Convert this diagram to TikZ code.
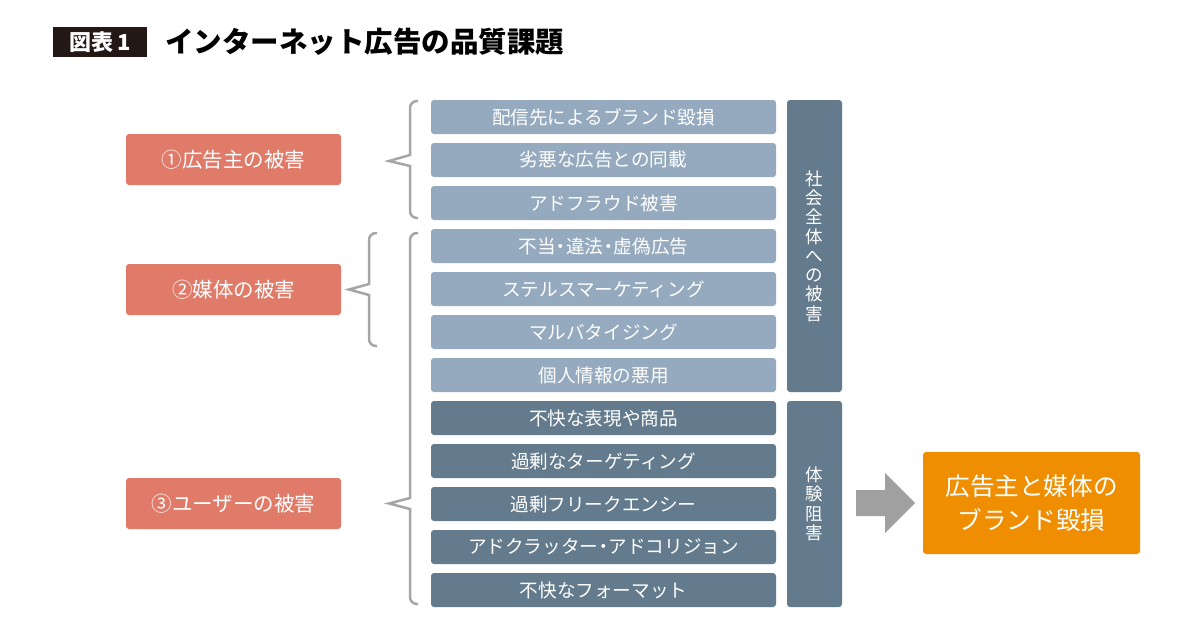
\documentclass[tikz,border=0pt]{standalone}
\usepackage{fontspec}
\setmainfont{Noto Sans CJK JP}
\usetikzlibrary{positioning}

\definecolor{titlebg}{HTML}{231815}
\definecolor{redbox}{HTML}{E07B69}
\definecolor{lightbox}{HTML}{95AABF}
\definecolor{darkbox}{HTML}{637B8C}
\definecolor{orangebox}{HTML}{EF8E00}
\definecolor{arrowgray}{HTML}{A0A0A0}
\definecolor{bracegray}{HTML}{A6A6A6}

\newcommand{\middot}{\kern-0.22em・\kern-0.22em}

\tikzset{
  issue/.style={rounded corners=3pt, minimum width=345pt, minimum height=34pt,
    inner sep=0pt, text=white, font=\fontsize{18.6}{20}\selectfont},
  issuelight/.style={issue, fill=lightbox},
  issuedark/.style={issue, fill=darkbox},
  victim/.style={rounded corners=3pt, fill=redbox, minimum width=215pt,
    minimum height=51pt, inner sep=0pt, text=white, font=\fontsize{20.5}{22}\selectfont},
  sidebox/.style={rounded corners=3pt, fill=darkbox, minimum width=55pt,
    inner sep=0pt, text=white, align=center, font=\fontsize{17.5}{19.3}\selectfont},
  bracepath/.style={draw=bracegray, line width=2.5pt, line join=miter}
}

\begin{document}
\begin{tikzpicture}[x=1pt, y=-1pt]
                \useasboundingbox (0,0) rectangle (1200,630);
                
                % Drawing title
                \node [fill=titlebg, minimum width=94pt, minimum height=30pt, inner sep=0pt,
                  text=white, font=\bfseries\fontsize{22}{24}\selectfont] (fig) at (100,42) {図表\,1};
                \node [anchor=west, inner sep=0pt, font=\bfseries\fontsize{28.5}{30}\selectfont]
                  (title) at (165,42) {インターネット広告の品質課題};
                
                % Drawing victims
                \node [victim] (advertiser) at (233.5,159.5) {①広告主の被害};
                \node [victim] (media) at (233.5,289.5) {②媒体の被害};
                \node [victim] (user) at (233.5,503.5) {③ユーザーの被害};
                
                % Drawing issues
                \node [issuelight] (brand) at (603.5,117) {配信先によるブランド毀損};
                \node [issuelight] (inferior) at (603.5,160) {劣悪な広告との同載};
                \node [issuelight] (fraud) at (603.5,203) {アドフラウド被害};
                \node [issuelight] (illegal) at (603.5,246) {不当\middot 違法\middot 虚偽広告};
                \node [issuelight] (stealth) at (603.5,289) {ステルスマーケティング};
                \node [issuelight] (malvert) at (603.5,332) {マルバタイジング};
                \node [issuelight] (privacy) at (603.5,375) {個人情報の悪用};
                \node [issuedark] (unpleasant) at (603.5,418) {不快な表現や商品};
                \node [issuedark] (targeting) at (603.5,461) {過剰なターゲティング};
                \node [issuedark] (frequency) at (603.5,504) {過剰フリークエンシー};
                \node [issuedark] (clutter) at (603.5,547) {アドクラッター\middot アドコリジョン};
                \node [issuedark] (format) at (603.5,590) {不快なフォーマット};
                
                % Drawing side boxes
                \node [sidebox, minimum height=292pt] (society) at (814.5,246)
                  {社\\会\\全\\体\\へ\\の\\被\\害};
                \node [sidebox, minimum height=206pt] (experience) at (814.5,504)
                  {体\\験\\阻\\害};
                
                % Drawing result
                \node [rounded corners=3pt, fill=orangebox, minimum width=217pt, minimum height=102pt,
                  inner sep=0pt, text=white, align=center, font=\fontsize{24.6}{34}\selectfont]
                  (result) at (1031.5,503) {広告主と媒体の\\ブランド毀損};
                
                % Drawing arrow
                \fill [arrowgray] (856,490) -- (885,490) -- (885,473) -- (915,503)
                  -- (885,533) -- (885,516) -- (856,516) -- cycle;
                
                % Drawing brace for advertiser
                \draw [bracepath] (418,101) [rounded corners=7pt] -- (410,101) -- (410,140)
                  [sharp corners] -- (410,155) -- (389,161) -- (410,166) -- (410,180)
                  [rounded corners=7pt] -- (410,218) -- (418,218);
                
                % Drawing brace for media
                \draw [bracepath] (377,233) [rounded corners=7pt] -- (369,233) -- (369,270)
                  [sharp corners] -- (369,284) -- (349,289.5) -- (369,295) -- (369,310)
                  [rounded corners=7pt] -- (369,346) -- (377,346);
                
                % Drawing brace for user
                \draw [bracepath] (418,233) [rounded corners=7pt] -- (410,233) -- (410,480)
                  [sharp corners] -- (410,498) -- (389,503.5) -- (410,509) -- (410,530)
                  [rounded corners=7pt] -- (410,604) -- (418,604);
\end{tikzpicture}
\end{document}
